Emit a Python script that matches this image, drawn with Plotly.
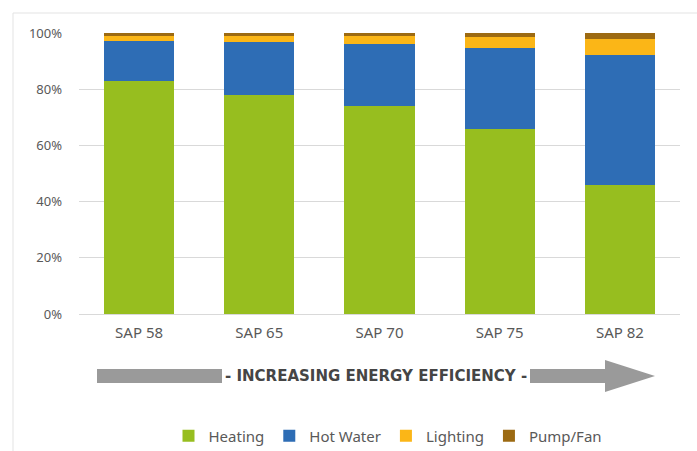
import plotly.graph_objects as go

# Share of energy use by end use, per SAP rating band (%)
categories = ["SAP 58", "SAP 65", "SAP 70", "SAP 75", "SAP 82"]
heating = [83, 78, 74, 65.7, 46]
hot_water = [14, 18.7, 22, 29, 46]
lighting = [2, 2.1, 3, 3.8, 5.8]
pump_fan = [1, 1.2, 1, 1.5, 2.2]

series = [
    ("Heating", heating, "#97BE1F"),
    ("Hot Water", hot_water, "#2E6DB5"),
    ("Lighting", lighting, "#FBB617"),
    ("Pump/Fan", pump_fan, "#9C6A12"),
]

W, H = 697, 451
L, R, T, B = 79, 17, 33, 137

fig = go.Figure()
for name, vals, color in series:
    fig.add_trace(go.Bar(
        x=categories, y=vals, name=name,
        marker=dict(color=color, line=dict(width=0)),
        hoverinfo="x+y+name",
    ))

# pixel helpers for container coordinates
def cx(x):
    return x / W

def cy(y):
    return (H - y) / H

# pixel helpers for paper coordinates (plot area fixed by margins)
def px(x):
    return (x - L) / (W - L - R)

def py(y):
    return (H - B - y) / (H - T - B)

shapes = [
    # thin outer frame
    dict(type="line", xref="paper", yref="paper", x0=px(13), x1=px(697), y0=py(13), y1=py(13),
         line=dict(color="#E3E3E3", width=1)),
    dict(type="line", xref="paper", yref="paper", x0=px(13), x1=px(13), y0=py(13), y1=py(451),
         line=dict(color="#E3E3E3", width=1)),
    # arrow shaft (left part)
    dict(type="rect", xref="paper", yref="paper", x0=px(97), x1=px(222), y0=py(383), y1=py(369),
         fillcolor="#9A9A9A", line=dict(width=0)),
    # arrow shaft (right part)
    dict(type="rect", xref="paper", yref="paper", x0=px(530), x1=px(607), y0=py(383), y1=py(369),
         fillcolor="#9A9A9A", line=dict(width=0)),
    # arrow head
    dict(type="path", xref="paper", yref="paper",
         path=f"M {px(605)},{py(360)} L {px(655)},{py(376)} L {px(605)},{py(392)} Z",
         fillcolor="#9A9A9A", line=dict(width=0)),
]

annotations = [
    dict(text="<b>- INCREASING ENERGY EFFICIENCY -</b>", xref="paper", yref="paper",
         x=px(376), y=py(376), showarrow=False, xanchor="center", yanchor="middle",
         font=dict(family="DejaVu Sans", size=15, color="#454545")),
]

fig.update_layout(
    width=W, height=H,
    margin=dict(l=L, r=R, t=T, b=B, autoexpand=False),
    barmode="stack",
    bargap=0.417,
    paper_bgcolor="white",
    plot_bgcolor="white",
    font=dict(family="Noto Sans", color="#595959"),
    showlegend=True,
    legend=dict(orientation="h", xref="container", yref="container",
                x=cx(388), y=cy(436), xanchor="center", yanchor="middle",
                font=dict(size=15, color="#595959"), itemwidth=30, traceorder="normal"),
    shapes=shapes,
    annotations=annotations,
    xaxis=dict(showgrid=False, showline=True, linecolor="#D9D9D9", linewidth=1,
               ticks="", tickfont=dict(size=15, color="#595959"),
               ticklabelstandoff=5, fixedrange=True),
    yaxis=dict(range=[0, 100], tickvals=[0, 20, 40, 60, 80, 100],
               ticktext=["0%", "20%", "40%", "60%", "80%", "100%"],
               showgrid=True, gridcolor="#D9D9D9", gridwidth=1, zeroline=False,
               showline=False, ticks="", tickfont=dict(size=13, color="#595959"),
               ticklabelstandoff=16, fixedrange=True),
)

fig.write_html("out.html")
